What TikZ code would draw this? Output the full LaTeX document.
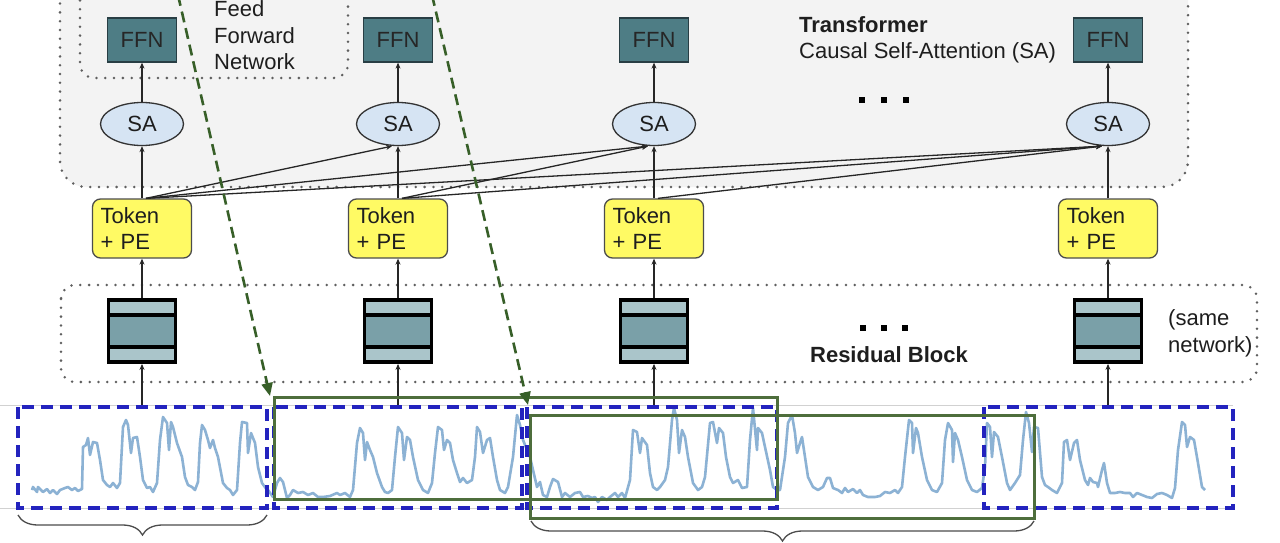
\documentclass[tikz,border=0pt]{standalone}
\usepackage{fontspec}
\setmainfont{Liberation Sans}
\usetikzlibrary{arrows.meta,decorations.pathreplacing,calc,shapes.geometric}
\definecolor{tbg}{RGB}{243,243,243}
\definecolor{dotc}{RGB}{95,95,95}
\definecolor{ffnfill}{RGB}{78,125,133}
\definecolor{ffnborder}{RGB}{40,62,68}
\definecolor{safill}{RGB}{214,228,243}
\definecolor{tokfill}{RGB}{255,250,100}
\definecolor{reslight}{RGB}{170,197,202}
\definecolor{resmid}{RGB}{122,160,168}
\definecolor{sigc}{RGB}{140,178,212}
\definecolor{bluedash}{RGB}{35,35,190}
\definecolor{gbox}{RGB}{78,110,60}
\definecolor{garrowc}{RGB}{55,95,40}
\definecolor{txt}{RGB}{30,30,30}
\begin{document}
\begin{tikzpicture}[x=1pt,y=-1pt,
  every node/.style={font=\fontsize{22}{26}\selectfont, text=txt},
  dotbox/.style={draw=dotc, line width=2.8pt, line cap=round, dash pattern=on 0pt off 8.8pt},
  ffn/.style={draw=ffnborder, line width=1.3pt, fill=ffnfill, minimum width=69pt, minimum height=44pt, inner sep=0pt, text=black!85},
  sa/.style={ellipse, draw=black!80, line width=1.3pt, fill=safill, minimum width=83pt, minimum height=43pt, inner sep=0pt},
  tok/.style={draw=black!70, line width=1.3pt, fill=tokfill, rounded corners=8pt, minimum width=99pt, minimum height=59pt, text width=83pt, inner xsep=8pt, align=left},
  res/.style={draw=black, line width=3.8pt, fill=reslight, minimum width=67pt, minimum height=62pt, inner sep=0pt,
    path picture={
      \fill[resmid] ([yshift=-15pt]path picture bounding box.north west) rectangle ([yshift=15pt]path picture bounding box.south east);
      \draw[line width=3.8pt] ([yshift=-15pt]path picture bounding box.north west) -- ([yshift=-15pt]path picture bounding box.north east);
      \draw[line width=3.8pt] ([yshift=15pt]path picture bounding box.south west) -- ([yshift=15pt]path picture bounding box.south east);
    }},
  arr/.style={draw=black!85, line width=1.3pt, -{Stealth[length=6pt,width=5pt]}},
  bluebox/.style={draw=bluedash, line width=3.3pt, dash pattern=on 12pt off 7pt},
  greenbox/.style={draw=gbox, line width=3pt},
  garrow/.style={draw=garrowc, line width=2.6pt, dash pattern=on 11pt off 6pt, -{Triangle[length=13pt,width=11pt]}},
  bracec/.style={draw=black!70, line width=1.3pt, decorate, decoration={brace, mirror, amplitude=20pt}},
  dotsq/.style={fill=black, minimum size=6.5pt, inner sep=0pt}
]
\useasboundingbox (0,0) rectangle (1280,543);
\clip (0,0) rectangle (1280,543);
\fill[white] (0,0) rectangle (1280,543);

% Transformer region
\draw[dotbox, fill=tbg, rounded corners=26pt] (60,-40) rectangle (1188,187);
\draw[dotbox, rounded corners=14pt] (80,-40) rectangle (348,78);
% Residual region
\draw[dotbox, rounded corners=14pt] (61,285) rectangle (1257,382);

% texts
\node[anchor=base west, inner sep=0pt] at (214,17) {Feed};
\node[anchor=base west, inner sep=0pt] at (214,44) {Forward};
\node[anchor=base west, inner sep=0pt] at (214,70) {Network};
\node[anchor=base west, inner sep=0pt] (ttl) at (799,33) {\bfseries Transformer};
\node[anchor=base west, inner sep=0pt] (csa) at (799,59) {Causal Self-Attention (SA)};
\node[anchor=base, inner sep=0pt] (rb) at (889,362) {\bfseries Residual Block};
\node[anchor=base west, inner sep=0pt] at (1168,325) {(same};
\node[anchor=base west, inner sep=0pt] at (1168,352) {network)};

% dots
\foreach \xx/\nm in {862/da,884/db,906/dc}{\node[dotsq] (\nm) at (\xx,100) {};}
\foreach \xx/\nm in {863/ra,884/rb2,905/rc}{\node[dotsq] (\nm) at (\xx,328) {};}

% columns
\foreach \i/\xx in {1/142,2/398,3/654,4/1108}{
  \node[ffn] (f\i) at (\xx,40) {FFN};
  \node[sa] (a\i) at (\xx,124) {SA};
  \node[tok] (t\i) at (\xx,228.5) {Token\\+ PE};
  \node[res] (r\i) at (\xx,331) {};
  \coordinate (s\i) at (\xx,406);
}
\foreach \i in {1,2,3,4}{
  \draw[arr] (a\i.north) -- (f\i.south);
  \draw[arr] (t\i.north) -- (a\i.south);
  \draw[arr] (r\i.north) -- (t\i.south);
  \draw[arr] (s\i) -- (r\i.south);
}
% attention connections
\draw[arr] ([xshift=4pt]t1.north) -- ([xshift=-6pt]a2.south);
\draw[arr] ([xshift=4pt]t1.north) -- ([xshift=-6pt]a3.south);
\draw[arr] ([xshift=4pt]t1.north) -- ([xshift=-6pt]a4.south);
\draw[arr] ([xshift=4pt]t2.north) -- ([xshift=-6pt]a3.south);
\draw[arr] ([xshift=4pt]t2.north) -- ([xshift=-6pt]a4.south);
\draw[arr] ([xshift=4pt]t3.north) -- ([xshift=-6pt]a4.south);

% signal area
\draw[black!18, line width=0.8pt] (0,405) -- (1233,405);
\draw[black!18, line width=0.8pt] (0,508) -- (1233,508);
\draw[sigc, line width=2.6pt, line join=round] plot coordinates {
(32,490)(33,487)(37,492)(38,487)(43,492)(47,489)(50,493)(53,490)(57,494)(60,490)(65,488)(68,487)(72,490)(75,488)(78,491)(82,489)(83,447)(86,445)(88,438)(90,455)(93,442)(97,443)(100,460)(103,480)(107,485)(110,487)(113,483)(117,488)(120,483)(123,427)(126,420)(128,425)(131,453)(133,438)(137,437)(140,457)(143,480)(147,488)(150,487)(153,492)(157,483)(160,440)(163,417)(167,423)(169,450)(171,422)(173,427)(177,443)(182,457)(185,477)(188,485)(192,487)(195,490)(198,482)(200,443)(202,425)(205,430)(208,440)(210,448)(213,440)(215,448)(218,457)(223,483)(227,488)(230,490)(233,495)(237,490)(240,443)(242,422)(247,423)(248,453)(251,433)(255,443)(258,467)(262,483)(267,490)(268,490)(273,497)(277,483)(280,478)(283,482)(287,498)(290,495)(293,490)(298,493)(303,492)(308,495)(313,493)(318,497)(323,497)(330,496)(337,493)(340,495)(345,493)(350,497)(353,490)(357,443)(360,428)(363,433)(365,460)(367,442)(370,450)(373,457)(377,473)(382,487)(385,492)(388,493)(392,490)(395,457)(398,427)(402,433)(404,460)(407,437)(410,440)(413,457)(418,480)(423,490)(428,493)(432,483)(435,453)(438,427)(442,430)(444,450)(447,440)(450,443)(453,460)(457,473)(460,482)(463,478)(467,483)(472,480)(475,457)(477,427)(480,432)(483,453)(487,440)(490,438)(493,457)(497,480)(500,490)(505,493)(508,487)(513,457)(517,415)(520,425)(523,440)(527,450)(530,457)(533,470)(537,487)(540,482)(543,495)(547,497)(550,487)(553,479)(558,482)(562,497)(565,493)(570,497)(575,493)(580,492)(583,497)(588,496)(592,498)(595,497)(598,502)(602,497)(607,500)(610,497)(615,493)(618,497)(622,493)(625,498)(630,480)(633,430)(637,432)(640,453)(642,438)(647,445)(650,473)(653,487)(657,490)(660,487)(665,480)(668,467)(672,420)(674,408)(677,420)(679,453)(682,430)(685,437)(688,457)(693,483)(698,490)(702,487)(705,477)(710,423)(713,422)(717,443)(719,428)(723,433)(726,457)(730,477)(733,483)(738,480)(742,488)(747,487)(750,440)(753,408)(757,450)(758,428)(762,433)(765,447)(770,470)(773,487)(777,490)(780,490)(785,457)(788,423)(792,415)(795,433)(797,453)(800,443)(802,437)(805,457)(808,477)(813,487)(818,490)(823,487)(827,478)(830,478)(833,488)(838,490)(842,493)(845,488)(848,492)(853,489)(857,493)(860,490)(863,495)(868,497)(875,497)(880,496)(885,492)(890,493)(895,490)(898,493)(902,487)(905,457)(909,420)(912,423)(913,453)(916,428)(918,433)(922,457)(927,480)(932,490)(937,492)(942,483)(945,440)(948,423)(952,430)(953,462)(955,433)(958,440)(962,457)(967,480)(972,490)(977,492)(982,488)(985,467)(987,423)(990,427)(992,457)(994,432)(998,437)(1002,457)(1007,483)(1010,490)(1015,483)(1020,475)(1023,440)(1026,412)(1029,423)(1032,452)(1034,427)(1038,428)(1042,477)(1045,485)(1048,487)(1052,490)(1057,493)(1062,483)(1064,442)(1067,440)(1070,460)(1074,443)(1077,440)(1080,460)(1085,480)(1088,485)(1090,478)(1093,482)(1097,483)(1098,487)(1102,470)(1104,463)(1107,483)(1110,493)(1115,493)(1120,492)(1125,493)(1130,493)(1133,497)(1137,493)(1142,495)(1147,497)(1152,498)(1157,494)(1162,493)(1167,495)(1172,498)(1175,488)(1178,450)(1182,422)(1185,425)(1187,447)(1190,437)(1194,440)(1198,463)(1202,487)(1205,490)
};

% windows
\draw[bluebox] (18,407) rectangle (267,508);
\draw[bluebox] (274,407) rectangle (522,508);
\draw[bluebox] (527,407) rectangle (777,508);
\draw[bluebox] (984,407) rectangle (1233,508);
\draw[greenbox] (274,397) rectangle (777,499);
\draw[greenbox] (530,415) rectangle (1034,518);

% green dashed arrows
\coordinate (g1s) at (178,-5);
\coordinate (g1e) at (270,396);
\coordinate (g2s) at (432,-5);
\coordinate (g2e) at (528,405);
\draw[garrow] (g1s) -- (g1e);
\draw[garrow] (g2s) -- (g2e);

% braces
\coordinate (b1a) at (18,515);
\coordinate (b1b) at (267,515);
\coordinate (b2a) at (531,521);
\coordinate (b2b) at (1034,521);
\draw[bracec] (b1a) -- (b1b);
\draw[bracec] (b2a) -- (b2b);
\end{tikzpicture}
\end{document}
